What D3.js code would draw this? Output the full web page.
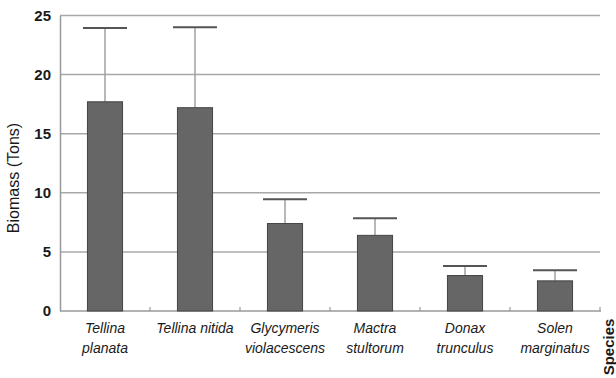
<!DOCTYPE html>
<html>
<head>
<meta charset="utf-8">
<script src="https://cdn.jsdelivr.net/npm/d3@7"></script>
<style>
  body { margin: 0; background: #fff; }
  text { font-family: "Liberation Sans", Arial, sans-serif; fill: #1a1a1a; }
</style>
</head>
<body>
<script>
// chart data
var species = [["Tellina", "planata"], ["Tellina nitida"], ["Glycymeris", "violacescens"],
               ["Mactra", "stultorum"], ["Donax", "trunculus"], ["Solen", "marginatus"]];
var biomass = [17.7, 17.2, 7.4, 6.4, 3.0, 2.55];
var upper = [23.95, 24.0, 9.45, 7.85, 3.8, 3.45];
var yTicks = [0, 5, 10, 15, 20, 25];

var width = 616, height = 378;
var margin = {left: 60, right: 16, top: 15.5, bottom: 67};

var svg = d3.select('body').append('svg').attr('width', width).attr('height', height);

var x = d3.scaleBand().domain(d3.range(species.length))
    .range([margin.left, width - margin.right]).paddingInner(0.61).paddingOuter(0.305);
var y = d3.scaleLinear().domain([0, 25]).range([height - margin.bottom, margin.top]);

// gridlines
svg.append('g').selectAll('line').data(yTicks.slice(1)).join('line')
    .attr('x1', margin.left).attr('x2', width - margin.right)
    .attr('y1', d => y(d)).attr('y2', d => y(d))
    .attr('stroke', '#a8a8a8').attr('stroke-width', 1.5);

// y axis
var yAxis = svg.append('g').attr('transform', 'translate(' + margin.left + ',0)')
    .call(d3.axisLeft(y).tickValues(yTicks).tickSize(0).tickPadding(9));
yAxis.select('.domain').attr('stroke', '#999').attr('stroke-width', 1.5);
yAxis.selectAll('text').style('font-size', '15px').style('font-weight', 'bold').attr('fill', '#1a1a1a');

// x axis with ticks between categories
var xBase = y(0);
svg.append('line').attr('x1', margin.left).attr('x2', width - margin.right + 1)
    .attr('y1', xBase).attr('y2', xBase).attr('stroke', '#999').attr('stroke-width', 1.5);
var step = x.step();
svg.append('g').selectAll('line').data(d3.range(1, species.length + 1)).join('line')
    .attr('x1', d => margin.left + d * step).attr('x2', d => margin.left + d * step)
    .attr('y1', xBase).attr('y2', xBase - 4)
    .attr('stroke', '#999').attr('stroke-width', 1.2);

// error bars (upper only)
var err = svg.append('g');
err.selectAll('line.v').data(upper).join('line').attr('class', 'v')
    .attr('x1', (d, i) => x(i) + x.bandwidth() / 2).attr('x2', (d, i) => x(i) + x.bandwidth() / 2)
    .attr('y1', d => y(d)).attr('y2', (d, i) => y(biomass[i]))
    .attr('stroke', '#a0a0a0').attr('stroke-width', 1.5);
err.selectAll('line.cap').data(upper).join('line').attr('class', 'cap')
    .attr('x1', (d, i) => x(i) + x.bandwidth() / 2 - 22).attr('x2', (d, i) => x(i) + x.bandwidth() / 2 + 22)
    .attr('y1', d => y(d)).attr('y2', d => y(d))
    .attr('stroke', '#555').attr('stroke-width', 2);

// bars
svg.append('g').selectAll('rect').data(biomass).join('rect')
    .attr('x', (d, i) => x(i)).attr('width', x.bandwidth())
    .attr('y', d => y(d)).attr('height', d => y(0) - y(d))
    .attr('fill', '#666').attr('stroke', '#444').attr('stroke-width', 1);

// category labels
var labels = svg.append('g').selectAll('text').data(species).join('text')
    .attr('text-anchor', 'middle').style('font-size', '14px').style('font-style', 'italic')
    .attr('transform', (d, i) => 'translate(' + (x(i) + x.bandwidth() / 2) + ',333)');
labels.selectAll('tspan').data(d => d).join('tspan')
    .attr('x', 0).attr('y', (d, j) => j * 20).text(d => d);

// axis titles
svg.append('text').attr('transform', 'translate(19,178) rotate(-90)')
    .attr('text-anchor', 'middle').style('font-size', '16px').text('Biomass (Tons)');
svg.append('text').attr('transform', 'translate(614,347) rotate(-90)')
    .attr('text-anchor', 'middle').style('font-size', '15px').style('font-weight', 'bold').text('Species');
</script>
</body>
</html>
